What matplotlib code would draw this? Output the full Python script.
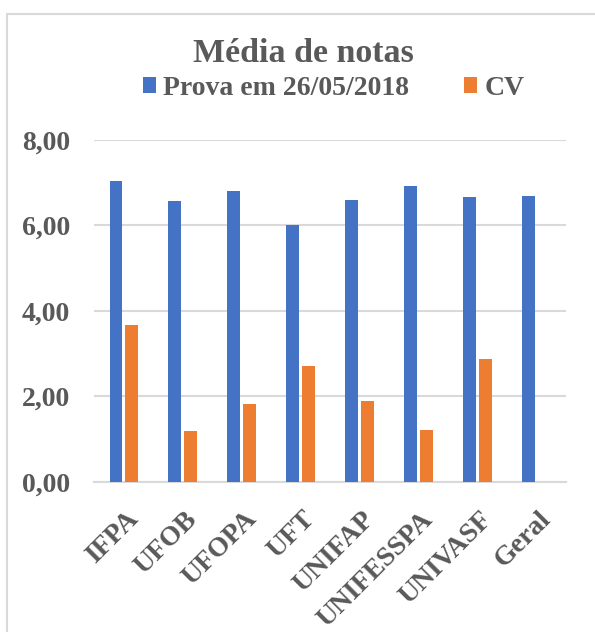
import numpy as np
import matplotlib
matplotlib.use('Agg')
import matplotlib.pyplot as plt
from matplotlib.patches import Rectangle
from matplotlib.transforms import ScaledTranslation

# dados
categorias = ['IFPA', 'UFOB', 'UFOPA', 'UFT', 'UNIFAP', 'UNIFESSPA', 'UNIVASF', 'Geral']
prova = [7.04, 6.57, 6.80, 6.01, 6.59, 6.93, 6.67, 6.69]
cv = [3.66, 1.19, 1.81, 2.71, 1.90, 1.22, 2.87, np.nan]
yticks = [0, 2, 4, 6, 8]

azul = '#4472C4'
laranja = '#ED7D31'
cinza = '#595959'
grade = '#D9D9D9'

plt.rcParams['font.family'] = ['Liberation Serif', 'DejaVu Serif']
plt.rcParams['font.weight'] = 'bold'

fig = plt.figure(figsize=(5.95, 6.32), dpi=100)
ax = fig.add_axes([0.1585, 0.2378, 0.7923, 0.5407])

x = np.arange(len(categorias))
w = 0.216
ax.bar(x - 0.134, prova, w, color=azul, label='Prova em 26/05/2018', zorder=3)
ax.bar(x + 0.134, cv, w, color=laranja, label='CV', zorder=3)

ax.set_xlim(-0.5, len(categorias) - 0.5)
ax.set_ylim(0, 8)
ax.set_yticks(yticks)
ax.set_yticklabels([f'{v:.2f}'.replace('.', ',') for v in yticks],
                   fontsize=20, color=cinza, fontweight='bold')
ax.yaxis.grid(True, color=grade, linewidth=1.5, zorder=0)
ax.tick_params(axis='both', length=0)
ax.tick_params(axis='y', pad=17.5)
for s in ['top', 'right', 'left']:
    ax.spines[s].set_visible(False)
ax.spines['bottom'].set_color(grade)
ax.spines['bottom'].set_linewidth(1.5)

ax.set_xticks(x)
ax.set_xticklabels(categorias, rotation=45, ha='right', va='top', rotation_mode='anchor',
                   fontsize=20, color=cinza, fontweight='bold')
ax.tick_params(axis='x', pad=0)
desloc = ScaledTranslation(2 / 100, -25 / 100, fig.dpi_scale_trans)
for lbl in ax.get_xticklabels():
    lbl.set_transform(lbl.get_transform() + desloc)

fig.text(0.510, 1 - 62 / 632, 'Média de notas', ha='center', va='baseline',
         fontsize=24.5, color=cinza, fontweight='bold')
ax.legend(loc='center', bbox_to_anchor=(0.5605, 0.860), bbox_transform=fig.transFigure,
          ncol=2, frameon=False, labelcolor=cinza, borderpad=0,
          handlelength=0.47, handleheight=0.47, handletextpad=0.25, columnspacing=2.0,
          prop={'weight': 'bold', 'size': 20})

fig.add_artist(Rectangle((0.011, -0.1), 1.2, 1.078, transform=fig.transFigure,
                         fill=False, ec=grade, lw=1.5))

fig.savefig('out.png', dpi=100)
